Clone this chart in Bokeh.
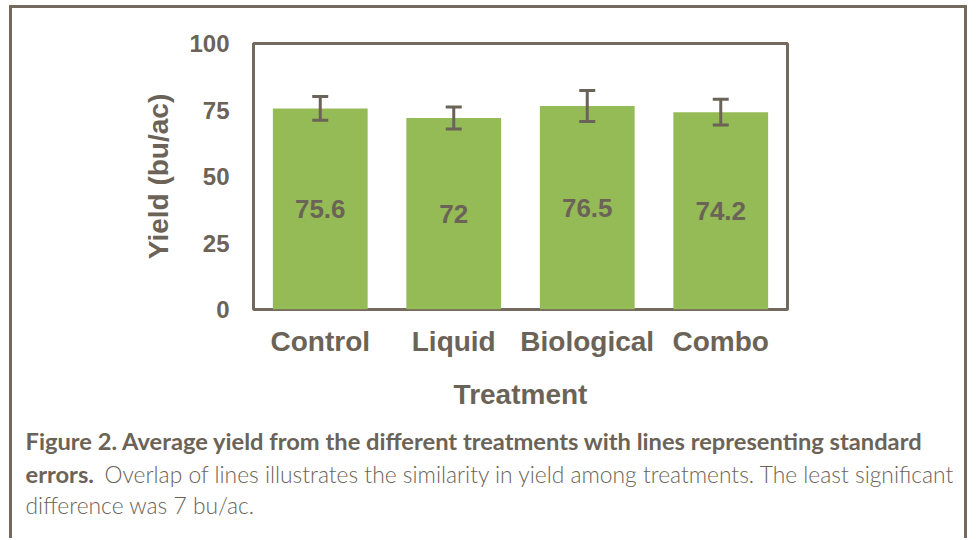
from bokeh.plotting import figure
from bokeh.models import ColumnDataSource, Range1d, FixedTicker, Whisker, TeeHead, Label
from bokeh.core.properties import value
from bokeh.embed import file_html
from bokeh.resources import INLINE

# Data
treatments = ["Control", "Liquid", "Biological", "Combo"]
yields = [75.6, 72.0, 76.5, 74.2]
std_errors = [4.5, 4.1, 5.8, 4.8]
value_labels = ["75.6", "72", "76.5", "74.2"]
y_ticks = [0, 25, 50, 75, 100]
caption_bold_1 = "Figure 2. Average yield from the different treatments with lines representing standard"
caption_bold_2 = "errors."
caption_light_2 = "Overlap of lines illustrates the similarity in yield among treatments. The least significant"
caption_light_3 = "difference was 7 bu/ac."

TEXT = "#6b6357"
FRAME = "#73695d"
GREEN = "#95bb56"
FONT = "Liberation Sans"

src = ColumnDataSource(dict(
    x=treatments,
    top=yields,
    mid=[v / 2 for v in yields],
    lower=[v - e for v, e in zip(yields, std_errors)],
    upper=[v + e for v, e in zip(yields, std_errors)],
    lbl=value_labels,
))

W = 958
p = figure(x_range=treatments, y_range=Range1d(0, 100),
           width=W, height=412, output_backend="svg", toolbar_location=None,
           min_border_left=241, min_border_right=183, min_border_top=35, min_border_bottom=111)
p.background_fill_color = "white"
p.border_fill_color = "white"
p.outline_line_color = FRAME
p.outline_line_width = 3
p.grid.visible = False

p.vbar(x="x", top="top", width=0.71, source=src, fill_color=GREEN, line_color=None)

w = Whisker(source=src, base="x", lower="lower", upper="upper", line_color=TEXT, line_width=3,
            upper_head=TeeHead(size=16, line_color=TEXT, line_width=3),
            lower_head=TeeHead(size=16, line_color=TEXT, line_width=3))
w.level = "annotation"
p.add_layout(w)

p.text(x="x", y="mid", text="lbl", source=src, text_align="center", text_baseline="middle",
       text_font=value(FONT), text_font_style="bold", text_font_size="26px", text_color=TEXT)

# axes
p.yaxis.ticker = FixedTicker(ticks=y_ticks)
for ax in (p.xaxis[0], p.yaxis[0]):
    ax.axis_line_color = None
    ax.major_tick_line_color = None
    ax.minor_tick_line_color = None
    ax.major_tick_out = 0
    ax.major_tick_in = 0
    ax.major_label_text_color = TEXT
    ax.major_label_text_font = FONT
    ax.major_label_text_font_style = "bold"
    ax.axis_label_text_color = TEXT
    ax.axis_label_text_font = FONT
    ax.axis_label_text_font_style = "bold"
    ax.axis_label_text_font_size = "28px"

p.yaxis.major_label_text_font_size = "24px"
p.yaxis.major_label_standoff = 24
p.yaxis.axis_label = "Yield (bu/ac)"
p.yaxis.axis_label_standoff = 12

p.xaxis.major_label_text_font_size = "28px"
p.xaxis.major_label_standoff = 16
p.xaxis.axis_label = "Treatment"
p.xaxis.axis_label_standoff = 19

p.styles = {"border-top": f"3px solid {FRAME}", "border-left": f"3px solid {FRAME}",
            "border-right": f"3px solid {FRAME}", "margin-left": "9px", "margin-top": "5px"}

# caption panel
H2 = 130
c = figure(width=W, height=H2, x_range=Range1d(0, W), y_range=Range1d(H2, 0),
           output_backend="svg", toolbar_location=None,
           min_border=0, x_axis_location=None, y_axis_location=None)
c.outline_line_color = None
c.grid.visible = False
c.background_fill_color = "white"
c.border_fill_color = "white"
c.styles = {"border-left": f"3px solid {FRAME}", "border-right": f"3px solid {FRAME}",
            "margin-left": "9px", "margin-top": "-9px"}

CAP = "Lato"
CAP_LIGHT = "Lato Light"
bold_size = "23.7px"
light_size = "22.8px"
c.add_layout(Label(x=13, y=32, text=caption_bold_1, text_font=CAP, text_font_style="bold",
                   text_font_size=bold_size, text_color=TEXT, text_baseline="alphabetic"))
c.add_layout(Label(x=13, y=65, text=caption_bold_2, text_font=CAP, text_font_style="bold",
                   text_font_size=bold_size, text_color=TEXT, text_baseline="alphabetic"))
c.add_layout(Label(x=92, y=65, text=caption_light_2, text_font=CAP_LIGHT,
                   text_font_size=light_size, text_color=TEXT, text_baseline="alphabetic"))
c.add_layout(Label(x=13, y=96, text=caption_light_3, text_font=CAP_LIGHT,
                   text_font_size=light_size, text_color=TEXT, text_baseline="alphabetic"))

open("out.html", "w").write(file_html([p, c], INLINE))
